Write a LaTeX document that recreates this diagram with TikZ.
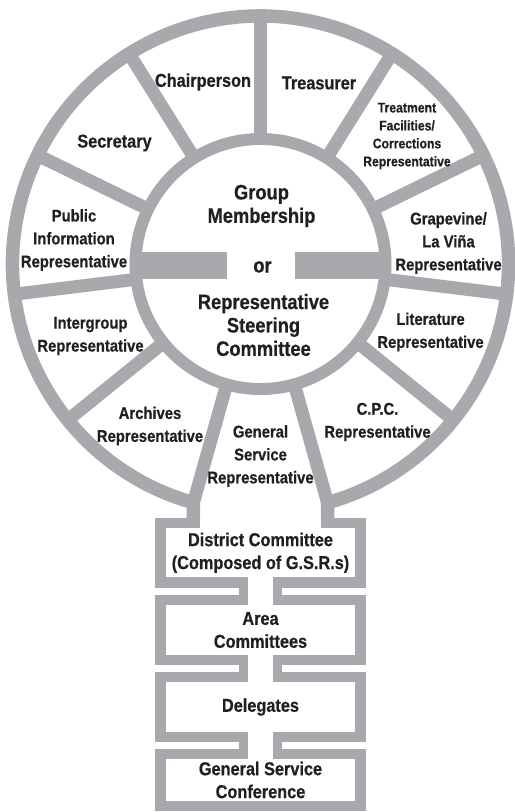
\documentclass[tikz,border=0pt]{standalone}
\usepackage{fontspec}
\setmainfont{Liberation Sans}[FakeStretch=0.875, BoldFeatures={FakeBold=0.6}]
\usetikzlibrary{calc}

\definecolor{ringgray}{RGB}{167,169,172}
\definecolor{labelblack}{RGB}{35,31,32}

\begin{document}
\begin{tikzpicture}[x=1bp,y=1bp,
  ring/.style={draw=ringgray, line width=13.5bp},
  spoke/.style={draw=ringgray, line width=13bp},
  lbl/.style={align=center, text=labelblack, inner sep=0pt, font=\bfseries\fontsize{17}{23}\selectfont},
  biglbl/.style={lbl, font=\bfseries\fontsize{18.7}{23}\selectfont},
  smalllbl/.style={lbl, font=\bfseries\fontsize{14}{18}\selectfont},
  centrelbl/.style={lbl, font=\bfseries\fontsize{21}{23.5}\selectfont},
  svcbox/.style={draw=ringgray, line width=10.5bp, minimum width=200bp, outer sep=0pt, inner sep=0pt,
    align=center, text=labelblack, font=\bfseries\fontsize{18.7}{23}\selectfont}]
\useasboundingbox (-260.5,-548) rectangle (254.5,264);

% Outer ring, open at the bottom into the stem
\draw[ring, line join=miter] (-67,-259) -- (254.3:248) arc[start angle=254.3, end angle=-74.3, radius=248bp] -- (67,-259);

% Inner ring
\draw[ring, line width=12bp] (0,0) circle[radius=125bp];

% Spokes
\foreach \a in {90,58,26,-7,-39,122,154,187,219,254.3,-74.3}
  \draw[spoke] (\a:125) -- (\a:248);

% Bars beside "or"
\fill[ringgray] (-125,-15) rectangle (-33,12);
\fill[ringgray] (34,-15) rectangle (125,12);

% Service boxes
\node[svcbox, minimum height=59.5bp] (district) at (0,-288.75) {District Committee\\(Composed of G.S.R.s)};
\node[svcbox, minimum height=60bp] (area) at (0,-366) {Area\\Committees};
\node[svcbox, minimum height=60bp] (delegates) at (0,-443) {Delegates};
\node[svcbox, minimum height=52bp] (conference) at (0,-516) {General Service\\Conference};

% Stem opening into the district box
\fill[white] ($(district.north)+(-60.2,6)$) rectangle ($(district.north)+(60.2,-5.3)$);

% Necks between boxes
\foreach \u/\l in {district/area, area/delegates, delegates/conference} {
  \fill[ringgray] ($(\u.south)+(-21,0)$) rectangle ($(\l.north)+(21,0)$);
  \fill[white] ($(\u.south)+(-12.5,5.3)$) rectangle ($(\l.north)+(12.5,-5.3)$);
}

% Ring labels
\node[biglbl] (chair) at (-57.5,182) {Chairperson};
\node[biglbl] (treasurer) at (58.5,181) {Treasurer};
\node[biglbl] (secretary) at (-146,121) {Secretary};
\node[smalllbl] (treatment) at (146.5,128) {Treatment\\Facilities/\\Corrections\\Representative};
\node[lbl] (publicinfo) at (-186.5,24) {Public\\Information\\Representative};
\node[lbl] (grapevine) at (188,21) {Grapevine/\\La Viña\\Representative};
\node[lbl] (intergroup) at (-170,-72) {Intergroup\\Representative};
\node[lbl] (literature) at (170,-68) {Literature\\Representative};
\node[lbl] (archives) at (-110.5,-162) {Archives\\Representative};
\node[lbl] (cpc) at (117,-158) {C.P.C.\\Representative};
\node[lbl] (gsr) at (0,-192) {General\\Service\\Representative};

% Centre labels
\node[centrelbl] (membership) at (1,58) {Group\\Membership};
\node[centrelbl] (ortext) at (2,-3) {or};
\node[centrelbl] (steering) at (3,-61) {Representative\\Steering\\Committee};
\end{tikzpicture}
\end{document}
